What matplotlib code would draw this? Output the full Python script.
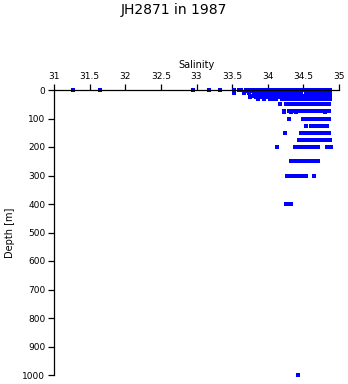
import matplotlib
matplotlib.use("Agg")
import matplotlib.pyplot as plt
import numpy as np

#-------------------------------------------------------------------------------
# salinity readings per sampling depth
sal_0 = [31.26, 31.64, 32.95, 33.17, 33.33, 33.52, 33.59, 33.63, 33.69, 33.72,
         33.77, 33.81, 33.84, 33.88, 33.92, 33.95, 33.99, 34.03, 34.06, 34.10,
         34.14, 34.18, 34.21, 34.25, 34.29, 34.33, 34.36, 34.40, 34.44, 34.47,
         34.51, 34.55, 34.58, 34.62, 34.66, 34.70, 34.73, 34.77, 34.80, 34.84, 34.87]
sal_5 = [33.53, 33.70, 33.74, 33.78, 33.82, 33.85, 33.89, 33.93, 33.96, 34.00,
         34.04, 34.08, 34.11, 34.15, 34.19, 34.23, 34.26, 34.30, 34.34, 34.38,
         34.42, 34.45, 34.53, 34.57, 34.60, 34.64, 34.68, 34.72, 34.75, 34.79,
         34.83, 34.87]
sal_10 = [33.52, 33.67, 33.74, 33.80, 33.84, 33.87, 33.91, 33.95, 33.98, 34.02,
          34.06, 34.10, 34.13, 34.17, 34.21, 34.25, 34.28, 34.32, 34.36, 34.40,
          34.43, 34.46, 34.54, 34.58, 34.62, 34.65, 34.69, 34.73, 34.77, 34.80,
          34.84, 34.87]
sal_20 = [33.77, 33.82, 33.87, 33.91, 33.94, 33.98, 34.02, 34.05, 34.09, 34.13,
          34.17, 34.20, 34.24, 34.28, 34.32, 34.35, 34.39, 34.43, 34.47, 34.50,
          34.54, 34.58, 34.61, 34.65, 34.69, 34.73, 34.76, 34.80, 34.84, 34.87]
sal_25 = [33.75, 33.83, 33.90, 33.94, 33.98, 34.01, 34.05, 34.09, 34.12, 34.16,
          34.20, 34.24, 34.27, 34.31, 34.35, 34.39, 34.42, 34.46, 34.50, 34.53,
          34.57, 34.61, 34.65, 34.68, 34.72, 34.76, 34.80, 34.83, 34.87]
sal_30 = [33.87, 33.95, 34.03, 34.07, 34.11, 34.20, 34.23, 34.27, 34.31, 34.35,
          34.38, 34.42, 34.46, 34.50, 34.53, 34.57, 34.61, 34.65, 34.68, 34.72,
          34.76, 34.80, 34.83, 34.87]
sal_50 = [34.17, 34.25, 34.29, 34.32, 34.36, 34.40, 34.44, 34.47, 34.51, 34.55,
          34.59, 34.62, 34.66, 34.70, 34.74, 34.77, 34.81, 34.86]
sal_75 = [34.23, 34.30, 34.34, 34.38, 34.41, 34.45, 34.49, 34.53, 34.57, 34.60,
          34.64, 34.68, 34.72, 34.75, 34.79, 34.83, 34.86]
sal_78 = [34.23, 34.33, 34.39, 34.80]
sal_100 = [34.30, 34.50, 34.54, 34.58, 34.62, 34.65, 34.69, 34.73, 34.77, 34.80,
           34.84, 34.86]
sal_125 = [34.54, 34.60, 34.64, 34.68, 34.71, 34.75, 34.79, 34.83]
sal_150 = [34.24, 34.47, 34.50, 34.54, 34.58, 34.62, 34.66, 34.70, 34.74, 34.78,
           34.81, 34.86]
sal_175 = [34.44, 34.48, 34.52, 34.56, 34.60, 34.64, 34.68, 34.71, 34.75, 34.80,
           34.84, 34.88]
sal_200 = [34.13, 34.38, 34.42, 34.46, 34.50, 34.54, 34.58, 34.62, 34.66, 34.71,
           34.83, 34.87, 34.89]
sal_250 = [34.32, 34.36, 34.40, 34.44, 34.48, 34.52, 34.56, 34.60, 34.64, 34.68, 34.71]
sal_300 = [34.27, 34.31, 34.35, 34.39, 34.43, 34.47, 34.51, 34.53, 34.65]
sal_400 = [34.25, 34.29, 34.32]
sal_1000 = [34.43]

depths = [0, 5, 10, 20, 25, 30, 50, 75, 78, 100, 125, 150, 175, 200, 250, 300, 400, 1000]
salinities = [sal_0, sal_5, sal_10, sal_20, sal_25, sal_30, sal_50, sal_75, sal_78,
              sal_100, sal_125, sal_150, sal_175, sal_200, sal_250, sal_300,
              sal_400, sal_1000]

x_ticks = [31, 31.5, 32, 32.5, 33, 33.5, 34, 34.5, 35]
x_labels = ['31', '31.5', '32', '32.5', '33', '33.5', '34', '34.5', '35']
y_ticks = [0, 100, 200, 300, 400, 500, 600, 700, 800, 900, 1000]

#-------------------------------------------------------------------------------
sal = np.concatenate([np.asarray(s, dtype=float) for s in salinities])
dep = np.concatenate([np.full(len(s), d, dtype=float) for d, s in zip(depths, salinities)])

plt.rcParams['font.family'] = 'DejaVu Sans'

fig = plt.figure(figsize=(3.48, 3.84), dpi=100)
ax = fig.add_axes([54/348, 1 - 375/384, 285/348, 285/384])

ax.plot(sal, dep, 's', color='#0000ff', markersize=2.3, markeredgewidth=0,
        clip_on=False)

ax.set_xlim(31, 35)
ax.set_ylim(1000, 0)

for side in ['right', 'bottom']:
    ax.spines[side].set_visible(False)
for side in ['top', 'left']:
    ax.spines[side].set_linewidth(0.9)

ax.xaxis.tick_top()
ax.xaxis.set_label_position('top')
ax.set_xticks(x_ticks)
ax.set_xticklabels(x_labels)
ax.set_yticks(y_ticks)
ax.tick_params(axis='both', direction='out', length=4.3, width=0.9,
               labelsize=6.5, pad=2)

ax.set_xlabel('Salinity', fontsize=7, labelpad=3)
ax.set_ylabel('Depth [m]', fontsize=7, labelpad=5)

fig.suptitle('JH2871 in 1987', fontsize=10, y=1 - 10/384, va='center')

plt.savefig('out.png', dpi=100)
